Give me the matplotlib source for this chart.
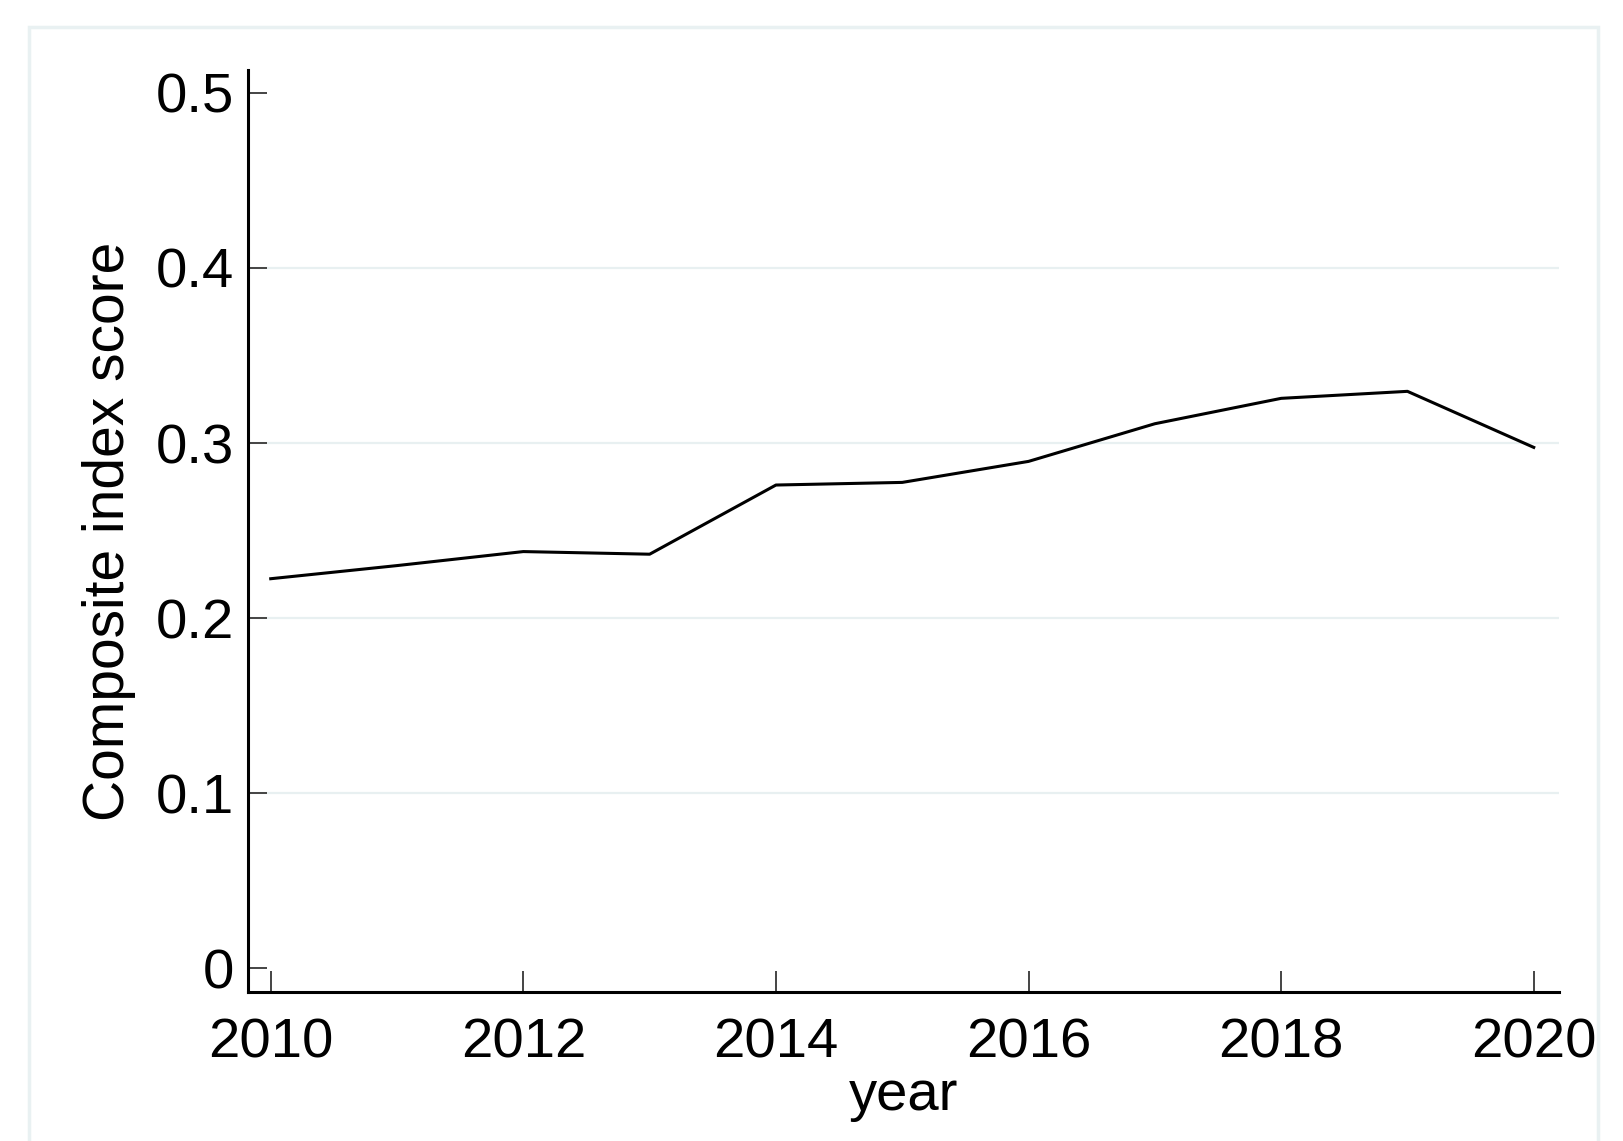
import matplotlib.pyplot as plt
from matplotlib.patches import Rectangle

plt.rcParams.update({
    "font.family": ["Liberation Sans", "DejaVu Sans"],
    "font.size": 40,
})

# composite index score by year
years = [2010, 2011, 2012, 2013, 2014, 2015, 2016, 2017, 2018, 2019, 2020]
scores = [0.2225, 0.230, 0.238, 0.2365, 0.276, 0.2775, 0.2895, 0.311, 0.3255, 0.3295, 0.2975]

x_ticks = [2010, 2012, 2014, 2016, 2018, 2020]
y_ticks = [0, 0.1, 0.2, 0.3, 0.4, 0.5]
y_tick_labels = ["0", "0.1", "0.2", "0.3", "0.4", "0.5"]
grid_levels = [0.1, 0.2, 0.3, 0.4]

W, H = 1623, 1141
fig = plt.figure(figsize=(W / 100, H / 100), dpi=100)
fig.patch.set_facecolor("white")

# light outer frame (graph region border)
frame = Rectangle((29 / W, -0.05), (1598 - 29) / W, 1.05 - 27 / H,
                  transform=fig.transFigure, fill=False,
                  edgecolor="#e9f1f2", linewidth=2.5, zorder=0)
fig.patches.append(frame)

ax = fig.add_axes([248 / W, 149 / H, (1559 - 248) / W, (1071 - 149) / H])
ax.set_facecolor("none")

for g in grid_levels:
    ax.axhline(g, color="#e8f0f1", linewidth=1.6, zorder=1)

ax.plot(years, scores, color="black", linewidth=2.2, zorder=3)

ax.set_xlim(2009.82, 2020.2)
ax.set_ylim(-0.0135, 0.513)

ax.set_xticks(x_ticks)
ax.set_yticks(y_ticks)
ax.set_yticklabels(y_tick_labels)

ax.tick_params(axis="both", direction="in", color="#444444",
               width=1.4, labelsize=40.5)
ax.tick_params(axis="x", length=15, pad=18)
ax.tick_params(axis="y", length=14, pad=10)

for side in ("top", "right"):
    ax.spines[side].set_visible(False)
for side in ("left", "bottom"):
    ax.spines[side].set_linewidth(2.2)
    ax.spines[side].set_color("black")

ax.set_xlabel("year", fontsize=40.5, labelpad=1)
ax.set_ylabel("Composite index score", fontsize=41, labelpad=14)

fig.savefig("out.png", dpi=100)
